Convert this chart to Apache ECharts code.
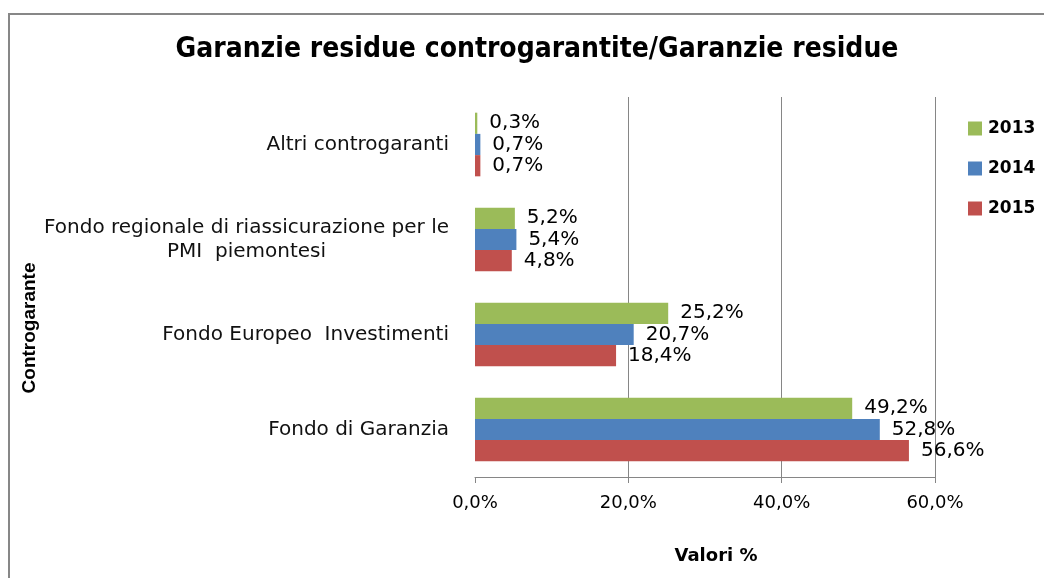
<!DOCTYPE html>
<html>
<head>
<meta charset="utf-8">
<script src="https://cdn.jsdelivr.net/npm/echarts@6/dist/echarts.min.js"></script>
<style>
  html, body { margin: 0; padding: 0; background: #fff; }
  #main { width: 1044px; height: 578px; }
</style>
</head>
<body>
<div id="main"></div>
<script>
// categorie (dal basso verso l'alto)
var categories = [
  'Fondo di Garanzia',
  'Fondo Europeo  Investimenti',
  'Fondo regionale di riassicurazione per le\nPMI  piemontesi',
  'Altri controgaranti'
];
var years = ['2013', '2014', '2015'];
var colors = ['#9BBB59', '#4F81BD', '#C0504D'];
// valori %
var values2013 = [49.2, 25.2, 5.2, 0.3];
var values2014 = [52.8, 20.7, 5.4, 0.7];
var values2015 = [56.6, 18.4, 4.8, 0.7];

function pct(v) {
  return v.toFixed(1).replace('.', ',') + '%';
}

var chart = echarts.init(document.getElementById('main'));
var allValues = [values2013, values2014, values2015];

var series = years.map(function (y, i) {
  return {
    name: y,
    type: 'bar',
    data: allValues[i],
    barGap: '0%',
    barCategoryGap: '33%',
    itemStyle: { color: colors[i] },
    label: {
      show: true,
      position: 'right',
      distance: 12,
      color: '#000',
      fontFamily: 'DejaVu Sans',
      fontSize: 20,
      formatter: function (p) { return pct(p.value); }
    }
  };
});

var option = {
  animation: false,
  backgroundColor: '#fff',
  title: {
    text: 'Garanzie residue controgarantite/Garanzie residue',
    left: 532,
    top: 31,
    textAlign: 'center',
    textStyle: {
      fontFamily: 'DejaVu Sans Condensed',
      fontWeight: 'bold',
      fontSize: 28,
      color: '#000'
    }
  },
  legend: {
    orient: 'vertical',
    left: 968,
    top: 120,
    padding: 0,
    itemWidth: 14,
    itemHeight: 14,
    itemGap: 23,
    icon: 'rect',
    data: years,
    textStyle: {
      fontFamily: 'DejaVu Sans',
      fontWeight: 'bold',
      fontSize: 17,
      color: '#000',
      padding: [0, 0, 0, 1]
    }
  },
  graphic: [
    {
      type: 'rect',
      shape: { x: 9, y: 14, width: 1100, height: 700 },
      style: { fill: 'none', stroke: '#878787', lineWidth: 2 },
      silent: true
    },
    {
      type: 'text',
      x: 30,
      y: 328,
      rotation: Math.PI / 2,
      style: {
        text: 'Controgarante',
        fontFamily: 'Liberation Sans',
        fontWeight: 'bold',
        fontSize: 19,
        fill: '#000',
        align: 'center',
        verticalAlign: 'middle'
      }
    }
  ],
  grid: {
    left: 475,
    right: 109,
    top: 97,
    bottom: 101,
    containLabel: false
  },
  xAxis: {
    type: 'value',
    min: 0,
    max: 60,
    interval: 20,
    name: 'Valori %',
    nameLocation: 'middle',
    nameGap: 70,
    nameTextStyle: {
      fontFamily: 'DejaVu Sans',
      fontWeight: 'bold',
      fontSize: 18,
      color: '#000',
      padding: [0, 0, 0, 22]
    },
    axisLine: { show: true, lineStyle: { color: '#868686', width: 1 } },
    axisTick: { show: true, length: 6, lineStyle: { color: '#868686' } },
    axisLabel: {
      margin: 17,
      fontFamily: 'DejaVu Sans',
      fontSize: 18,
      color: '#000',
      formatter: function (v) { return pct(v); }
    },
    splitLine: {
      show: true,
      showMinLine: false,
      lineStyle: { color: '#868686', width: 1 }
    }
  },
  yAxis: {
    type: 'category',
    data: categories,
    axisLine: { show: false },
    axisTick: { show: false },
    axisLabel: {
      margin: 26,
      fontFamily: 'DejaVu Sans',
      fontSize: 20,
      color: '#111',
      formatter: function (v) {
        return v.split('\n').map(function (s) { return '{c|' + s + '}'; }).join('\n');
      },
      rich: {
        c: {
          align: 'center',
          fontFamily: 'DejaVu Sans',
          fontSize: 20,
          color: '#111',
          lineHeight: 24
        }
      }
    }
  },
  series: series
};

chart.setOption(option);
</script>
</body>
</html>
